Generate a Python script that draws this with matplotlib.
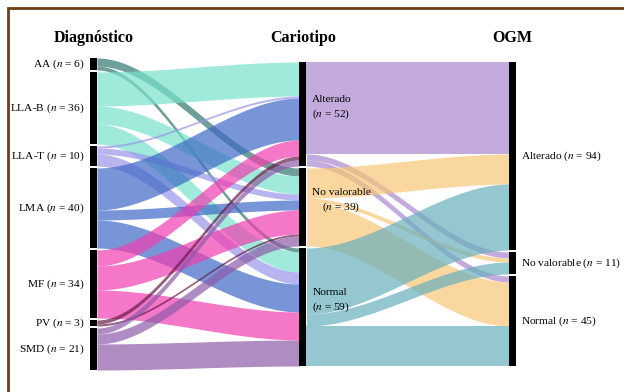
import matplotlib
matplotlib.use('Agg')
import matplotlib.pyplot as plt
from matplotlib.patches import Rectangle
import numpy as np

plt.rcParams['font.family'] = ['Liberation Serif', 'DejaVu Serif']
plt.rcParams['mathtext.fontset'] = 'stix'

diagnostico = ['AA', 'LLA-B', 'LLA-T', 'LMA', 'MF', 'PV', 'SMD']
cariotipo = ['Alterado', 'No valorable', 'Normal']
ogm = ['Alterado', 'No valorable', 'Normal']

# filas: diagnóstico, columnas: cariotipo
diag_cario = np.array([
    [0, 4, 2],
    [17, 9, 10],
    [1, 3, 6],
    [21, 5, 14],
    [8, 12, 14],
    [2, 1, 0],
    [3, 5, 13],
])
# filas: cariotipo, columnas: OGM
cario_ogm = np.array([
    [46, 3, 3],
    [15, 2, 22],
    [33, 6, 20],
])

diag_colors = ['#307770', '#77e2cd', '#9b94ea', '#3e69c6', '#f13eb0', '#6a1a4a', '#8d5ba9']
cario_colors = ['#ac88d0', '#f8c677', '#69b0bc']

GAP = 1
CENTER = 76
HW = 0.0167
ALPHA = 0.7


def node_tops(totals):
    span = totals.sum() + GAP * (len(totals) - 1)
    top = CENTER - span / 2
    return top + np.concatenate([[0], np.cumsum(totals + GAP)[:-1]])


def band(ax, x0, x1, y0, y1, w, color):
    t = np.linspace(0, 1, 100)
    s = t * t * (3 - 2 * t)
    x = x0 + (x1 - x0) * t
    top = y0 + (y1 - y0) * s
    ax.fill_between(x, top, top + w, color=color, alpha=ALPHA, lw=0)


def flows(ax, col, matrix, colors):
    src_tot = matrix.sum(axis=1)
    dst_tot = matrix.sum(axis=0)
    out_ptr = node_tops(src_tot).astype(float)
    in_ptr = node_tops(dst_tot).astype(float)
    for i in range(matrix.shape[0]):
        for j in range(matrix.shape[1]):
            w = matrix[i, j]
            if w == 0:
                continue
            band(ax, col + HW, col + 1 - HW, out_ptr[i], in_ptr[j], w, colors[i])
            out_ptr[i] += w
            in_ptr[j] += w


def bars(ax, col, totals):
    for top, tot in zip(node_tops(totals), totals):
        ax.add_patch(Rectangle((col - HW, top), 2 * HW, tot, color='black', lw=0))


fig = plt.figure(figsize=(6.24, 3.92), dpi=100)
ax = fig.add_axes([0, 0, 1, 1])
ax.set_xlim(-0.446, 2.532)
ax.set_ylim(165, -31)
ax.axis('off')

n_diag = diag_cario.sum(axis=1)
n_cario = diag_cario.sum(axis=0)
n_ogm = cario_ogm.sum(axis=0)

flows(ax, 0, diag_cario, diag_colors)
flows(ax, 1, cario_ogm, cario_colors)
bars(ax, 0, n_diag)
bars(ax, 1, n_cario)
bars(ax, 2, n_ogm)

fs = 8.2
for name, top, tot in zip(diagnostico, node_tops(n_diag), n_diag):
    ax.text(-HW - 0.025, top + tot / 2, f'{name} ($n$ = {tot})', ha='right', va='center', fontsize=fs)

for name, top, tot in zip(cariotipo, node_tops(n_cario), n_cario):
    ax.text(1 + HW + 0.025, top + tot / 2 - 3, f'{name}\n($n$ = {tot})', ha='left', va='center',
            multialignment='center', fontsize=fs, linespacing=1.3)

for name, top, tot in zip(ogm, node_tops(n_ogm), n_ogm):
    ax.text(2 + HW + 0.025, top + tot / 2, f'{name} ($n$ = {tot})', ha='left', va='center', fontsize=fs)

for col, title in enumerate(['Diagnóstico', 'Cariotipo', 'OGM']):
    ax.text(col, -12, title, ha='center', va='center', fontsize=11.5, fontweight='bold')

# marco marrón
fig.add_artist(Rectangle((8 / 624, -0.1), 1.5, 1.1 - 8 / 392, fill=False,
                         edgecolor='#6e3f16', lw=2, transform=fig.transFigure))

fig.savefig('out.png', dpi=100)
